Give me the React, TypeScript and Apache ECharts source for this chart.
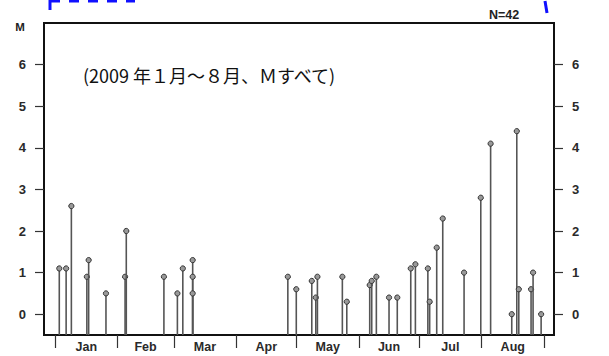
import React, { useEffect, useRef } from "react";
import * as echarts from "echarts";

// Day offsets from 1 Jan 2009 (0 = Jan 1) and magnitudes
const eventDays = [
  2.1, 5.5, 8.1, 15.8, 16.7, 25.3, 34.8, 35.4, 54.1, 60.8, 63.5,
  68.4, 68.4, 68.4, 115.7, 119.9, 127.6, 129.6, 130.4, 142.8, 145,
  156.4, 157.4, 159.7, 166, 170.1, 176.8, 179.1, 185.3, 186.2, 189.7,
  192.7, 203.3, 211.6, 216.5, 227, 229.5, 230.5, 236.6, 237.6, 241.6,
];
const magnitudes = [
  1.1, 1.1, 2.6, 0.9, 1.3, 0.5, 0.9, 2.0, 0.9, 0.5, 1.1,
  1.3, 0.9, 0.5, 0.9, 0.6, 0.8, 0.4, 0.9, 0.9, 0.3,
  0.7, 0.8, 0.9, 0.4, 0.4, 1.1, 1.2, 1.1, 0.3, 1.6,
  2.3, 1.0, 2.8, 4.1, 0.0, 4.4, 0.6, 0.6, 1.0, 0.0,
];
const monthStarts = [0, 31, 59, 90, 120, 151, 181, 212, 243];
const monthNames = ["Jan", "Feb", "Mar", "Apr", "May", "Jun", "Jul", "Aug"];
const yTicks = [0, 1, 2, 3, 4, 5, 6];
const countLabel = "N=42";
const titleText = "(2009 年１月～８月、Ｍすべて)";
const yName = "M";

export default function App() {
  const ref = useRef<HTMLDivElement>(null);
  useEffect(() => {
    document.body.style.margin = "0";
    if (!ref.current) return;
    const chart = echarts.init(ref.current, null, { renderer: "svg" });
    const monthMids = monthNames.map((_, i) => (monthStarts[i] + monthStarts[i + 1]) / 2);
    const labelFont = {
      fontFamily: "Liberation Sans, Arial, sans-serif",
      fontWeight: "bold" as const,
      color: "#2a2a2a",
    };
    const yAxisCommon = (pos: "left" | "right") => ({
      type: "value" as const,
      position: pos,
      min: -0.5,
      max: 7,
      axisLine: { show: false, onZero: false },
      splitLine: { show: false },
      axisTick: {
        show: true,
        inside: false,
        length: 9,
        customValues: yTicks,
        lineStyle: { color: "#333", width: 1.2 },
      },
      axisLabel: {
        ...labelFont,
        fontSize: 13,
        margin: 18,
        customValues: yTicks,
      },
    });
    chart.setOption({
      animation: false,
      grid: {
        left: 44,
        right: 55,
        top: 23,
        bottom: 21,
        show: true,
        borderColor: "#111",
        borderWidth: 2,
        backgroundColor: "transparent",
      },
      xAxis: {
        type: "value",
        position: "bottom",
        min: -5.5,
        max: 248,
        axisLine: { show: false, onZero: false },
        splitLine: { show: false },
        axisTick: {
          show: true,
          inside: false,
          length: 13,
          customValues: monthStarts,
          lineStyle: { color: "#333", width: 1.2 },
        },
        axisLabel: {
          ...labelFont,
          fontSize: 12.5,
          margin: 5,
          customValues: monthMids,
          formatter: (v: number) => {
            const i = monthMids.findIndex((m) => Math.abs(m - v) < 0.01);
            return i >= 0 ? monthNames[i] : "";
          },
        },
      },
      yAxis: [yAxisCommon("left"), yAxisCommon("right")],
      series: [
        {
          type: "custom",
          data: eventDays.map((d, i) => [d, magnitudes[i]]),
          renderItem: (params: any, api: any) => {
            const x = api.value(0);
            const v = api.value(1);
            const top = api.coord([x, v]);
            const bot = api.coord([x, -0.5]);
            return {
              type: "group",
              children: [
                {
                  type: "line",
                  shape: { x1: top[0], y1: bot[1], x2: top[0], y2: top[1] },
                  style: { stroke: "#555", lineWidth: 1.6 },
                },
                {
                  type: "circle",
                  shape: { cx: top[0], cy: top[1], r: 2.6 },
                  style: { fill: "#999", stroke: "#333", lineWidth: 1 },
                },
              ],
            };
          },
        },
      ],
      graphic: [
        {
          type: "text",
          x: 20,
          y: 27,
          style: {
            text: yName,
            fontFamily: "Liberation Sans, Arial, sans-serif",
            fontWeight: "bold",
            fontSize: 11.5,
            fill: "#222",
            align: "center",
            verticalAlign: "middle",
          },
        },
        {
          type: "text",
          x: 504,
          y: 15,
          style: {
            text: countLabel,
            fontFamily: "Liberation Sans, Arial, sans-serif",
            fontWeight: "bold",
            fontSize: 12.5,
            fill: "#222",
            align: "center",
            verticalAlign: "middle",
          },
        },
        {
          type: "text",
          x: 83,
          y: 75,
          style: {
            text: titleText,
            fontFamily: "Noto Sans CJK JP",
            fontSize: 18,
            fill: "#111",
            align: "left",
            verticalAlign: "middle",
          },
        },
        {
          type: "line",
          shape: { x1: 50, y1: 0, x2: 50, y2: 10 },
          style: { stroke: "#1010ff", lineWidth: 3 },
        },
        {
          type: "line",
          shape: { x1: 50, y1: 1, x2: 135, y2: 1 },
          style: { stroke: "#1010ff", lineWidth: 3, lineDash: [10, 9] },
        },
        {
          type: "line",
          shape: { x1: 545, y1: 1, x2: 547, y2: 13 },
          style: { stroke: "#1010ff", lineWidth: 3 },
        },
      ],
    });
    return () => chart.dispose();
  }, []);
  return <div ref={ref} style={{ width: 609, height: 356 }} />;
}
